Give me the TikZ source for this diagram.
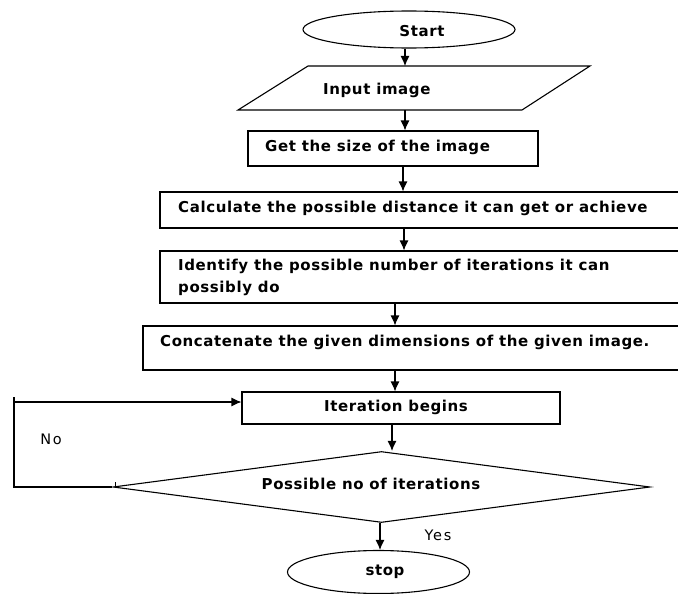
\documentclass[tikz,border=0pt]{standalone}
\usepackage{fontspec}
\setmainfont[LetterSpace=4]{DejaVu Sans}
\newfontfamily\lblfont[LetterSpace=12]{DejaVu Sans}
\usetikzlibrary{arrows.meta,shapes.geometric}
\begin{document}
\begin{tikzpicture}[x=1pt,y=-1pt,
  every node/.style={font=\fontsize{15}{22}\selectfont\bfseries,inner sep=0pt},
  box/.style={draw,line width=1.1pt,rectangle,inner sep=0pt},
  term/.style={draw,line width=1.1pt,ellipse,inner sep=0pt},
  arr/.style={line width=1.1pt,-{Latex[length=10pt,width=9pt]}},
  lbl/.style={font=\lblfont\fontsize{14.5}{16}\selectfont}]
\useasboundingbox (0,0) rectangle (678,594);
\clip (0,0) rectangle (678,594);
% Start
\node[term,minimum width=212pt,minimum height=37pt] (start) at (409,29.5) {};
\node at (422,31) {Start};
% Input
\draw[line width=1.1pt] (308,66) -- (590,66) -- (522,110) -- (238,110) -- cycle;
\node[anchor=west] (input) at (323,90) {Input image};
\coordinate (inTop) at (405,66);
\coordinate (inBot) at (405,110);
% Get size
\node[box,minimum width=290pt,minimum height=35pt] (size) at (393,148.5) {};
\node[anchor=west] at (265,147) {Get the size of the image};
% Calculate
\node[box,minimum width=530pt,minimum height=36pt] (calc) at (425,210) {};
\node[anchor=west] at (178,208) {Calculate the possible distance it can get or achieve};
% Identify
\node[box,minimum width=530pt,minimum height=52pt] (ident) at (425,277) {};
\node[anchor=west] at (178,266.5) {Identify the possible number of iterations it can};
\node[anchor=west] at (178,288.5) {possibly do};
% Concatenate
\node[box,minimum width=550pt,minimum height=44pt] (conc) at (418,348) {};
\node[anchor=west] at (160,342.5) {Concatenate the given dimensions of the given image.};
% Iteration
\node[box,minimum width=318pt,minimum height=32pt] (iter) at (401,408) {};
\node at (396,407) {Iteration begins};
% Decision
\node[draw,line width=1.1pt,diamond,aspect=7.6,minimum width=537pt,minimum height=71pt,inner sep=0pt] (dec) at (381.5,487) {};
\node at (371,484) {Possible no of iterations};
% Stop
\node[term,minimum width=182pt,minimum height=43pt] (stop) at (378.5,572) {};
\node at (385,572) {stop};
% arrows
\draw[arr] (start.south -| inTop) -- (inTop);
\draw[arr] (inBot) -- (inBot |- size.north);
\draw[arr] (size.south -| 403,0) -- (403,0 |- calc.north);
\draw[arr] (calc.south -| 404,0) -- (404,0 |- ident.north);
\draw[arr] (ident.south -| 395,0) -- (395,0 |- conc.north);
\draw[arr] (conc.south -| 395,0) -- (395,0 |- iter.north);
\draw[arr] (iter.south -| 392,0) -- (dec.north -| 392,0);
\draw[arr] (dec.south -| 380,0) -- (stop.north -| 380,0);
% loop
\coordinate (lb) at (14,487);
\coordinate (lt) at (14,402);
\draw[line width=1.1pt] (dec.west) -- (lb) -- (14,397);
\draw[arr] (lt) -- (lt -| iter.west);
\draw[line width=0.7pt] (115,482) -- (115,487);
\node[lbl] at (51,439) {No};
\node[lbl] at (438,535) {Yes};
\end{tikzpicture}
\end{document}
